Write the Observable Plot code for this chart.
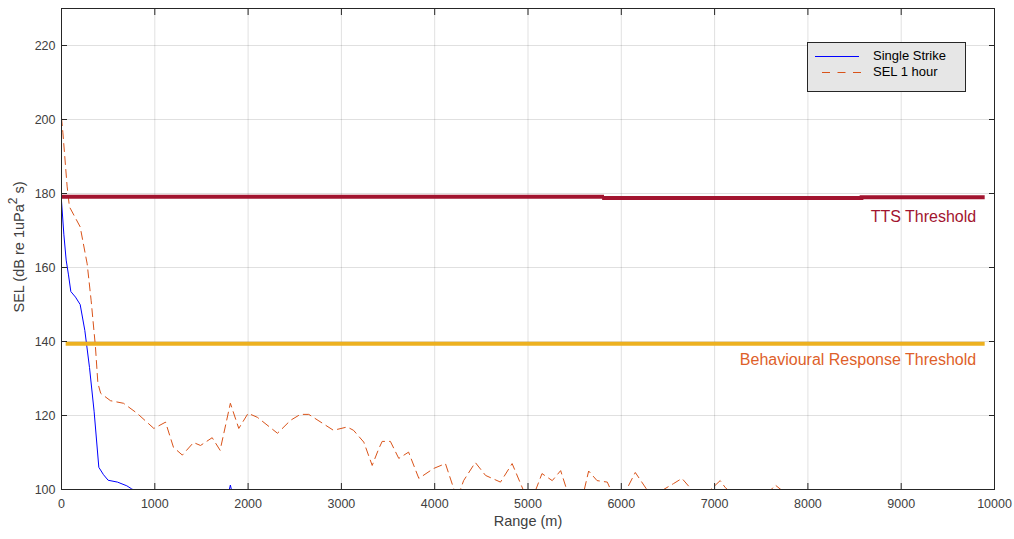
<!DOCTYPE html>
<html>
<head>
<meta charset="utf-8">
<script src="https://cdn.jsdelivr.net/npm/d3@7"></script>
<script src="https://cdn.jsdelivr.net/npm/@observablehq/plot@0.6"></script>
<style>
  html, body { margin: 0; padding: 0; background: #fff; }
  #chart { width: 1014px; height: 539px; }
</style>
</head>
<body>
<div id="chart"></div>
<script>
// ---- Data ----
const xTicks = [0, 1000, 2000, 3000, 4000, 5000, 6000, 7000, 8000, 9000, 10000];
const yTicks = [100, 120, 140, 160, 180, 200, 220];

// Single Strike (range m, SEL dB)
const singleRange = [0, 25, 50, 75, 100, 150, 200, 250, 300, 350, 400, 450, 500, 600, 700, 750, 800, 1000, 1200, 1400, 1600, 1790, 1810, 1830, 2000, 2500, 3000, 4000, 5000, 6000, 7000, 8000, 9000, 10000];
const singleSEL   = [178, 169, 162, 158, 153.5, 152, 150, 143, 133, 121, 106, 104, 102.5, 102, 101, 100.2, 99.5, 98, 97, 97.5, 98, 99, 101.2, 99, 97, 96, 95, 93, 92, 91, 90, 89, 88, 87];

// SEL 1 hour (range m, SEL dB)
const hourRange = [0, 15, 60, 85, 200, 275, 318, 364, 390, 420, 525, 665, 810, 990, 1115, 1200, 1295, 1415, 1490, 1615, 1700, 1810, 1900, 2000, 2100, 2315, 2455, 2560, 2650, 2915, 3062, 3130, 3240, 3330, 3400, 3437, 3525, 3615, 3720, 3830, 3990, 4115, 4240, 4310, 4435, 4545, 4705, 4830, 4920, 4990, 5080, 5150, 5260, 5350, 5440, 5590, 5650, 5740, 5850, 5920, 6040, 6150, 6300, 6420, 6560, 6650, 6770, 6950, 7060, 7115, 7250, 7500, 7650, 7760, 8000, 8500, 9000, 9500, 10000];
const hourSEL   = [200.5, 196.4, 182, 176.4, 171, 161, 151, 138.5, 128.7, 126, 124, 123.3, 120.6, 116.5, 118.2, 111.4, 109.3, 112.7, 111.9, 114, 110.6, 123.3, 116.5, 120.6, 119.5, 115.2, 118.7, 120.3, 120.3, 116, 116.9, 116, 112.8, 106.5, 111, 113, 113, 108.4, 110.1, 103, 105.7, 107, 97.5, 102.4, 107.3, 103.8, 102, 107, 101.6, 97.5, 99.7, 104.3, 102.4, 105.1, 98, 98.5, 105, 102.4, 102, 98, 99.2, 104.6, 99, 99.5, 101.6, 103, 99.5, 99.8, 102.4, 100.5, 97.5, 97, 101.2, 99, 96, 95, 94, 93, 92];

// Threshold lines
const ttsStart = [0, 5800, 8560];
const ttsEnd   = [5820, 8600, 9900];
const ttsLevel = [179.1, 178.8, 179.0];
const behStart = [50];
const behEnd   = [9900];
const behLevel = [139.4];

const labelText  = ["TTS Threshold", "Behavioural Response Threshold"];
const labelX     = [9900, 9900];
const labelY     = [173.7, 134.9];
const labelColor = ["#a2142f", "#de5f2a"];

const seriesNames = ["Single Strike", "SEL 1 hour"];

// ---- Build tables ----
const single = singleRange.map((r, i) => ({range: r, sel: singleSEL[i]}));
const hour = hourRange.map((r, i) => ({range: r, sel: hourSEL[i]}));
const tts = ttsStart.map((s, i) => ({x1: s, x2: ttsEnd[i], y: ttsLevel[i]}));
const beh = behStart.map((s, i) => ({x1: s, x2: behEnd[i], y: behLevel[i]}));
const labels = labelText.map((t, i) => ({text: t, x: labelX[i], y: labelY[i], color: labelColor[i]}));

const font = "'Liberation Sans', Arial, Helvetica, sans-serif";

const chart = Plot.plot({
  width: 1014,
  height: 539,
  marginLeft: 61,
  marginRight: 20,
  marginTop: 8,
  marginBottom: 50,
  x: {domain: [0, 10000]},
  y: {domain: [100, 230]},
  style: {fontFamily: font, fontSize: "12.5px", color: "#404040", background: "#fff", overflow: "visible"},
  marks: [
    Plot.gridX(xTicks, {stroke: "#000", strokeOpacity: 0.12}),
    Plot.gridY(yTicks, {stroke: "#000", strokeOpacity: 0.12}),
    Plot.line(hour, {x: "range", y: "sel", stroke: "#d95319", strokeWidth: 1, strokeDasharray: "8,5", clip: true}),
    Plot.line(single, {x: "range", y: "sel", stroke: "#0000ff", strokeWidth: 1, clip: true}),
    Plot.ruleY(tts, {y: "y", x1: "x1", x2: "x2", stroke: "#a2142f", strokeWidth: 4}),
    Plot.ruleY(beh, {y: "y", x1: "x1", x2: "x2", stroke: "#edb120", strokeWidth: 4}),
    Plot.text(labels, {x: "x", y: "y", text: "text", fill: "color", textAnchor: "end", fontSize: 16, dx: -9}),
    Plot.frame({stroke: "#262626", strokeWidth: 1}),
    Plot.axisX(xTicks, {anchor: "bottom", tickSize: -6, tickPadding: 16, stroke: "#262626", label: null, tickFormat: d => String(d), fill: "#404040"}),
    Plot.axisX(xTicks, {anchor: "top", tickSize: -6, stroke: "#262626", label: null, tickFormat: () => ""}),
    Plot.axisY(yTicks, {anchor: "left", tickSize: -6, tickPadding: 12, stroke: "#262626", label: null, tickFormat: d => String(d), fill: "#404040"}),
    Plot.axisY(yTicks, {anchor: "right", tickSize: -6, stroke: "#262626", label: null, tickFormat: () => ""}),
    Plot.text(["Range (m)"], {frameAnchor: "bottom", dy: 36, fontSize: 14.5, fill: "#404040"})
  ]
});

document.getElementById("chart").appendChild(chart);

// ---- Y axis title with superscript ----
const svg = d3.select(chart);
const yl = svg.append("text")
  .attr("transform", "translate(20,247) rotate(-90)")
  .attr("text-anchor", "middle")
  .attr("dominant-baseline", "middle")
  .attr("font-family", font)
  .attr("font-size", 14.5)
  .attr("fill", "#404040");
yl.append("tspan").text("SEL (dB re 1uPa");
yl.append("tspan").attr("dy", -6).attr("font-size", 12).text("2");
yl.append("tspan").attr("dy", 6).text(" s)");

// ---- Legend ----
const lg = svg.append("g").attr("font-family", font).attr("font-size", 13).attr("text-anchor", "start");
lg.append("rect").attr("x", 807.5).attr("y", 42.5).attr("width", 158).attr("height", 49)
  .attr("fill", "#e6e6e6").attr("stroke", "#262626").attr("stroke-width", 1);
lg.append("line").attr("x1", 815).attr("x2", 859).attr("y1", 56.5).attr("y2", 56.5)
  .attr("stroke", "#0000ff").attr("stroke-width", 1);
lg.append("line").attr("x1", 822).attr("x2", 864).attr("y1", 72.5).attr("y2", 72.5)
  .attr("stroke", "#d95319").attr("stroke-width", 1).attr("stroke-dasharray", "8,7.5");
lg.append("text").attr("x", 873).attr("y", 56.5).attr("dominant-baseline", "middle").attr("text-anchor", "start").attr("fill", "#000").text(seriesNames[0]);
lg.append("text").attr("x", 873).attr("y", 72.5).attr("dominant-baseline", "middle").attr("text-anchor", "start").attr("fill", "#000").text(seriesNames[1]);
</script>
</body>
</html>
